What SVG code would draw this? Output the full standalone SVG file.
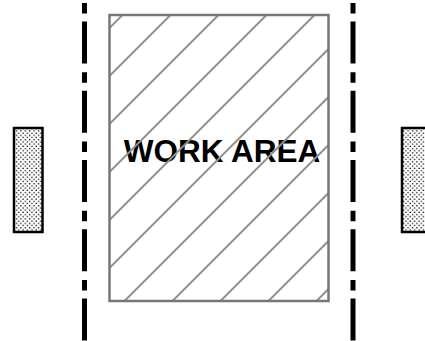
<svg xmlns="http://www.w3.org/2000/svg" width="425" height="341" viewBox="0 0 425 341">
<style>
.cl{stroke:#000;stroke-width:5;stroke-dasharray:10.5 8 42 8.75;fill:none}
.hatch{stroke:#909090;stroke-width:2;fill:none}
.area{fill:none;stroke:#777;stroke-width:2.5}
.label{font-family:"Liberation Sans",Arial,sans-serif;font-weight:bold;font-size:31.5px;fill:#000;text-anchor:middle}
.block{fill:url(#dots);stroke:#000;stroke-width:2.5}
</style>
<defs>
<pattern id="dots" width="4.4" height="4.4" patternUnits="userSpaceOnUse">
<rect width="4.4" height="4.4" fill="#fff"/>
<circle cx="1.1" cy="1.1" r="0.75" fill="#000"/>
<circle cx="3.3" cy="3.3" r="0.75" fill="#000"/>
</pattern>
</defs>
<rect width="425" height="341" fill="#fff"/>
<g id="connectors">
<line class="cl" x1="84.5" y1="3" x2="84.5" y2="341"/>
<line class="cl" x1="353" y1="3" x2="353" y2="341"/>
</g>
<g id="work-area">
<rect x="109.5" y="15" width="219" height="286" fill="#fff"/>
<text class="label" x="222" y="161.5">WORK AREA</text>
<g class="hatch">
<line x1="109.5" y1="28" x2="122.5" y2="15"/>
<line x1="109.5" y1="76" x2="170.5" y2="15"/>
<line x1="109.5" y1="124" x2="218.5" y2="15"/>
<line x1="109.5" y1="172" x2="266.5" y2="15"/>
<line x1="109.5" y1="220" x2="314.5" y2="15"/>
<line x1="109.5" y1="268" x2="328.5" y2="49"/>
<line x1="124.5" y1="301" x2="328.5" y2="97"/>
<line x1="172.5" y1="301" x2="328.5" y2="145"/>
<line x1="220.5" y1="301" x2="328.5" y2="193"/>
<line x1="268.5" y1="301" x2="328.5" y2="241"/>
<line x1="316.5" y1="301" x2="328.5" y2="289"/>
</g>
<rect class="area" x="109.5" y="15" width="219" height="286"/>
</g>
<g id="block-left">
<rect class="block" x="14" y="128" width="28.5" height="104"/>
</g>
<g id="block-right">
<rect class="block" x="402" y="128" width="28.5" height="104"/>
</g>
</svg>
